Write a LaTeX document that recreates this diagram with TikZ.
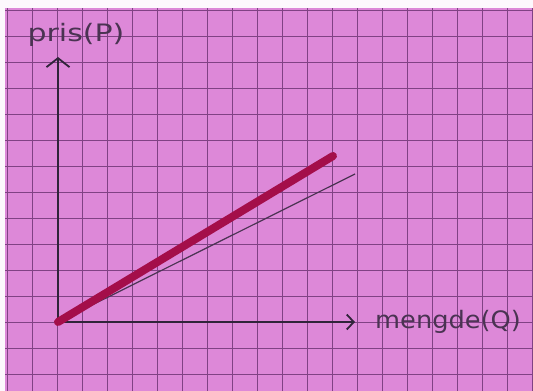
\documentclass[tikz,border=0pt]{standalone}
\usepackage{fontspec}
\newfontfamily\handfont{DejaVu Sans}
\usetikzlibrary{arrows.meta}
\definecolor{papir}{RGB}{221,136,216}
\definecolor{rute}{RGB}{128,66,132}
\definecolor{blyant}{RGB}{48,36,58}
\definecolor{tusj}{RGB}{164,14,74}
\tikzset{
  rutelinje/.style={rute, line width=0.9pt},
  akse/.style={blyant, line width=2.4pt, line cap=round},
  merkelapp/.style={blyant!85!papir, font=\handfont\fontsize{24}{28}\selectfont, inner sep=0pt}
}

\begin{document}
\begin{tikzpicture}[x=1pt,y=1pt]
\useasboundingbox (0,0) rectangle (533,391);
\fill[white!94!papir] (0,0) rectangle (533,391);
\fill[papir] (5,0) rectangle (533,383);
\draw[rutelinje, xstep=25, ystep=26, shift={(7,381)}] (-2,-381) grid (526,2);
% aksene
\coordinate (origo) at (58,69);
\coordinate (ytopp) at (58,334);
\coordinate (xende) at (355,69);
\draw[akse, -{Straight Barb[length=9,width=23,line width=1.8pt]}] (origo) -- (ytopp);
\draw[akse, -{Straight Barb[length=7,width=15,line width=1.8pt]}] (origo) -- (xende);
\node[merkelapp, xscale=1.25] (pris) at (76,356) {pris(P)};
\node[merkelapp, anchor=west, xscale=1.07] (mengde) at (375,69) {mengde(Q)};
% linjene
\coordinate (tynnende) at (355,217);
\coordinate (tykkende) at (333,235);
\draw[blyant!85!papir, line width=1.2pt] (origo) -- (tynnende);
\draw[tusj, line width=8pt, line cap=round] (origo) -- (tykkende);
\end{tikzpicture}
\end{document}
